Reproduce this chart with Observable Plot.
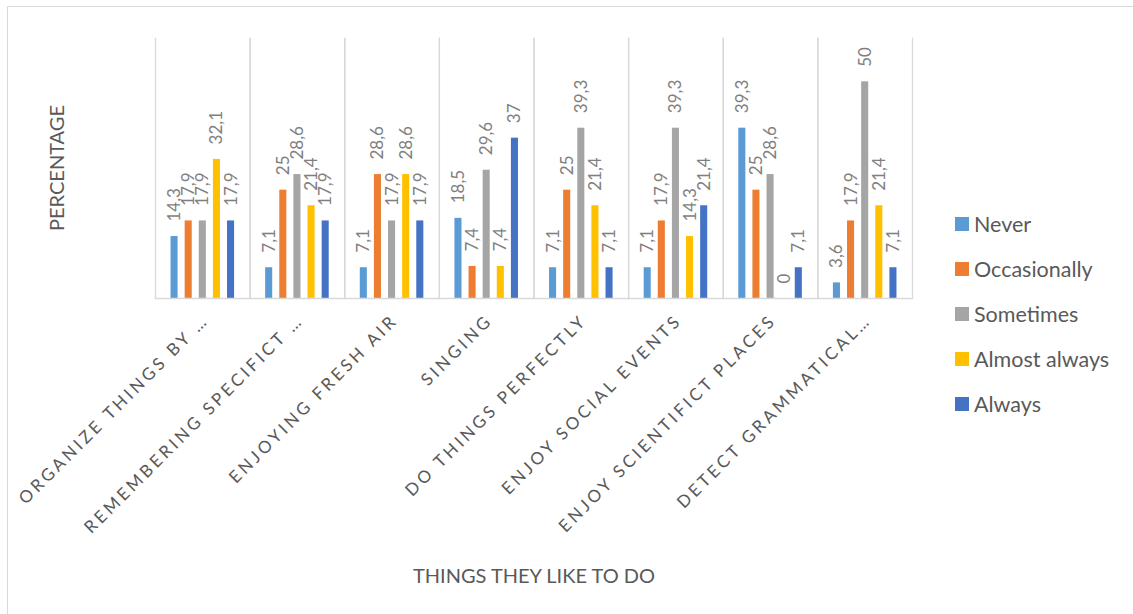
<!DOCTYPE html>
<html><head><meta charset="utf-8">
<script src="https://cdn.jsdelivr.net/npm/d3@7"></script>
<script src="https://cdn.jsdelivr.net/npm/@observablehq/plot@0.6"></script>
<style>
body{margin:0;background:#fff;font-family:Lato,"Open Sans",sans-serif;}
#wrap{position:relative;width:1133px;height:614px;overflow:hidden;background:#fff;}
#border{position:absolute;left:7px;top:6px;width:1200px;height:700px;border:1px solid #d9d9d9;box-sizing:border-box;}
#chart{position:absolute;left:0;top:0;}
.title{position:absolute;color:#595959;font-size:20px;white-space:nowrap;}
#xtitle{left:534px;top:575px;transform:translate(-50%,-50%);}
#ytitle{left:56px;top:168px;transform:translate(-50%,-50%) rotate(-90deg);}
.leg{position:absolute;left:955px;display:flex;align-items:center;color:#595959;font-size:21.5px;white-space:nowrap;transform:translateY(-50%);}
.leg span.sw{display:inline-block;width:14px;height:14px;margin-right:5px;}
</style></head>
<body><div id="wrap"><div id="border"></div><div id="chart"></div>
<div class="title" id="xtitle">THINGS THEY LIKE TO DO</div>
<div class="title" id="ytitle">PERCENTAGE</div>
</div>
<script>
const categories = ["ORGANIZE THINGS BY …", "REMEMBERING SPECIFICT …", "ENJOYING FRESH AIR", "SINGING", "DO THINGS PERFECTLY", "ENJOY SOCIAL EVENTS", "ENJOY SCIENTIFICT PLACES", "DETECT GRAMMATICAL…"];
const seriesNames = ["Never", "Occasionally", "Sometimes", "Almost always", "Always"];
const colors = ["#5B9BD5", "#ED7D31", "#A5A5A5", "#FFC000", "#4472C4"];
const never = [14.3, 7.1, 7.1, 18.5, 7.1, 7.1, 39.3, 3.6];
const occasionally = [17.9, 25, 28.6, 7.4, 25, 17.9, 25, 17.9];
const sometimes = [17.9, 28.6, 17.9, 29.6, 39.3, 39.3, 28.6, 50];
const almostAlways = [32.1, 21.4, 28.6, 7.4, 21.4, 14.3, 0, 21.4];
const always = [17.9, 17.9, 17.9, 37, 7.1, 21.4, 7.1, 7.1];
const legendRowsY = [224, 269, 314, 359, 404];

const seriesValues = [never, occasionally, sometimes, almostAlways, always];
const rows = [];
categories.forEach((c, i) => seriesValues.forEach((vals, j) => rows.push({category: c, series: seriesNames[j], value: vals[i]})));
const fmt = v => String(v).replace(".", ",");

const chart = Plot.plot({
  width: 1133, height: 600,
  marginLeft: 155, marginRight: 221, marginTop: 38, marginBottom: 302,
  style: {fontFamily: "Lato, sans-serif", background: "transparent"},
  fx: {domain: categories, padding: 0, round: false, axis: null},
  x: {domain: seriesNames, paddingInner: 0.5, paddingOuter: 1.1, round: false, axis: null},
  y: {domain: [0, 60], axis: null},
  color: {domain: seriesNames, range: colors},
  marks: [
    Plot.frame({anchor: "left", stroke: "#d9d9d9", strokeWidth: 1.3}),
    Plot.frame({anchor: "right", stroke: "#d9d9d9", strokeWidth: 1.3}),
    Plot.barY(rows, {fx: "category", x: "series", y: "value", fill: "series"}),
    Plot.ruleY([0], {stroke: "#d9d9d9", strokeWidth: 1.5}),
    Plot.text(rows, {fx: "category", x: "series", y: "value", text: d => fmt(d.value), rotate: -90, textAnchor: "start", lineAnchor: "middle", dy: -15, fill: "#7f7f7f", fontSize: 17}),
    Plot.text(categories, {fx: d => d, text: d => d, frameAnchor: "bottom", rotate: -45, textAnchor: "end", lineAnchor: "middle", dy: 19, dx: 3, fill: "#595959", fontSize: 17})
  ]
});
chart.querySelectorAll("text").forEach(t => {
  if (categories.includes(t.textContent)) t.setAttribute("letter-spacing", "3.3px");
});
document.getElementById("chart").appendChild(chart);

const wrap = document.getElementById("wrap");
seriesNames.forEach((s, i) => {
  const d = document.createElement("div");
  d.className = "leg";
  d.style.top = legendRowsY[i] + "px";
  d.innerHTML = `<span class="sw" style="background:${colors[i]}"></span>${s}`;
  wrap.appendChild(d);
});
</script>
</body></html>
